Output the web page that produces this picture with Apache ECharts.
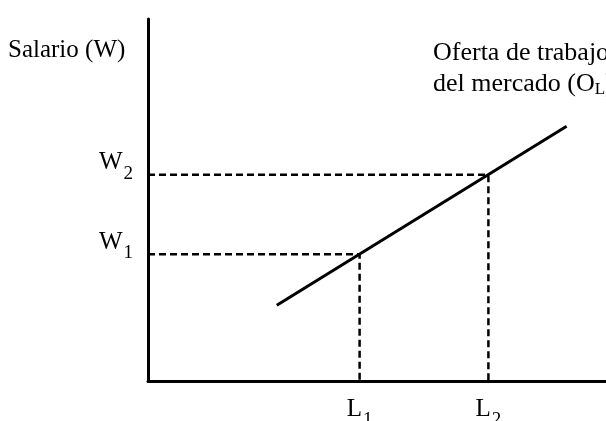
<!DOCTYPE html>
<html>
<head>
<meta charset="utf-8">
<script src="https://cdn.jsdelivr.net/npm/echarts@6/dist/echarts.min.js"></script>
<style>
  html, body { margin: 0; padding: 0; background: #fff; }
  #chart { width: 606px; height: 421px; }
</style>
</head>
<body>
<div id="chart"></div>
<script>
// Market labour supply: wage (W) against quantity of labour (L)
const supplyLine = [[28, 20.9], [91, 70.4]];
const laborLevels = [46, 74];
const wageLevels = [35, 57];
const laborLabels = ['1', '2'];
const wageLabels = ['1', '2'];
const yAxisTitle = 'Salario (W)';
const curveTitle = ['Oferta de trabajo', 'del mercado (O', 'L', ')'];

const FONT = '"Liberation Serif", "DejaVu Serif", serif';
const INK = '#000';

// Letter plus lowered index; both tokens share one 26px line box
const subRich = {
  m: { fontFamily: FONT, fontSize: 25, color: INK, lineHeight: 26, verticalAlign: 'top' },
  s: { fontFamily: FONT, fontSize: 19, color: INK, lineHeight: 12, padding: [14, 0, 0, 1], verticalAlign: 'top' }
};

// Dashed guide lines from each equilibrium point to both axes
const guideSeries = laborLevels.map((l, i) => ({
  type: 'line',
  data: [[0, wageLevels[i]], [l, wageLevels[i]], [l, 0]],
  symbol: 'none',
  silent: true,
  lineStyle: { color: INK, width: 2.5, type: [7, 4] },
  z: 2
}));

const chart = echarts.init(document.getElementById('chart'), null, { renderer: 'canvas' });
chart.setOption({
  backgroundColor: '#fff',
  animation: false,
  // fixed plot rectangle; labels may run off the canvas edge
  grid: { left: 148, right: -2, top: 19, bottom: 40, containLabel: false, outerBoundsMode: 'none' },
  xAxis: {
    type: 'value', min: 0, max: 100,
    axisLine: { show: true, lineStyle: { color: INK, width: 3 } },
    axisTick: { show: false },
    splitLine: { show: false },
    axisLabel: {
      customValues: laborLevels,
      margin: 16,
      formatter: v => '{m|L}{s|' + laborLabels[laborLevels.indexOf(v)] + '}',
      rich: subRich
    }
  },
  yAxis: {
    type: 'value', min: 0, max: 100,
    axisLine: { show: true, lineStyle: { color: INK, width: 3 } },
    axisTick: { show: false },
    splitLine: { show: false },
    axisLabel: {
      customValues: wageLevels,
      margin: 15,
      verticalAlign: 'middle',
      padding: [0, 0, 23, 0],
      formatter: v => '{m|W}{s|' + wageLabels[wageLevels.indexOf(v)] + '}',
      rich: subRich
    }
  },
  series: guideSeries.concat([{
    type: 'line',
    data: supplyLine,
    symbol: 'none',
    silent: true,
    lineStyle: { color: INK, width: 3 },
    z: 3
  }]),
  graphic: [
    {
      type: 'text', left: 8, top: 38,
      style: { text: yAxisTitle, font: '25px ' + FONT, fill: INK }
    },
    {
      type: 'text', left: 433, top: 40,
      style: {
        text: '{m|' + curveTitle[0] + '}\n{m|' + curveTitle[1] + '}{s|' + curveTitle[2] + '}{m|' + curveTitle[3] + '}',
        rich: {
          m: { fontFamily: FONT, fontSize: 26, fill: INK, lineHeight: 31 },
          s: { fontFamily: FONT, fontSize: 17, fill: INK, lineHeight: 31, padding: [12, 0, 0, 0] }
        }
      }
    }
  ]
});
</script>
</body>
</html>
